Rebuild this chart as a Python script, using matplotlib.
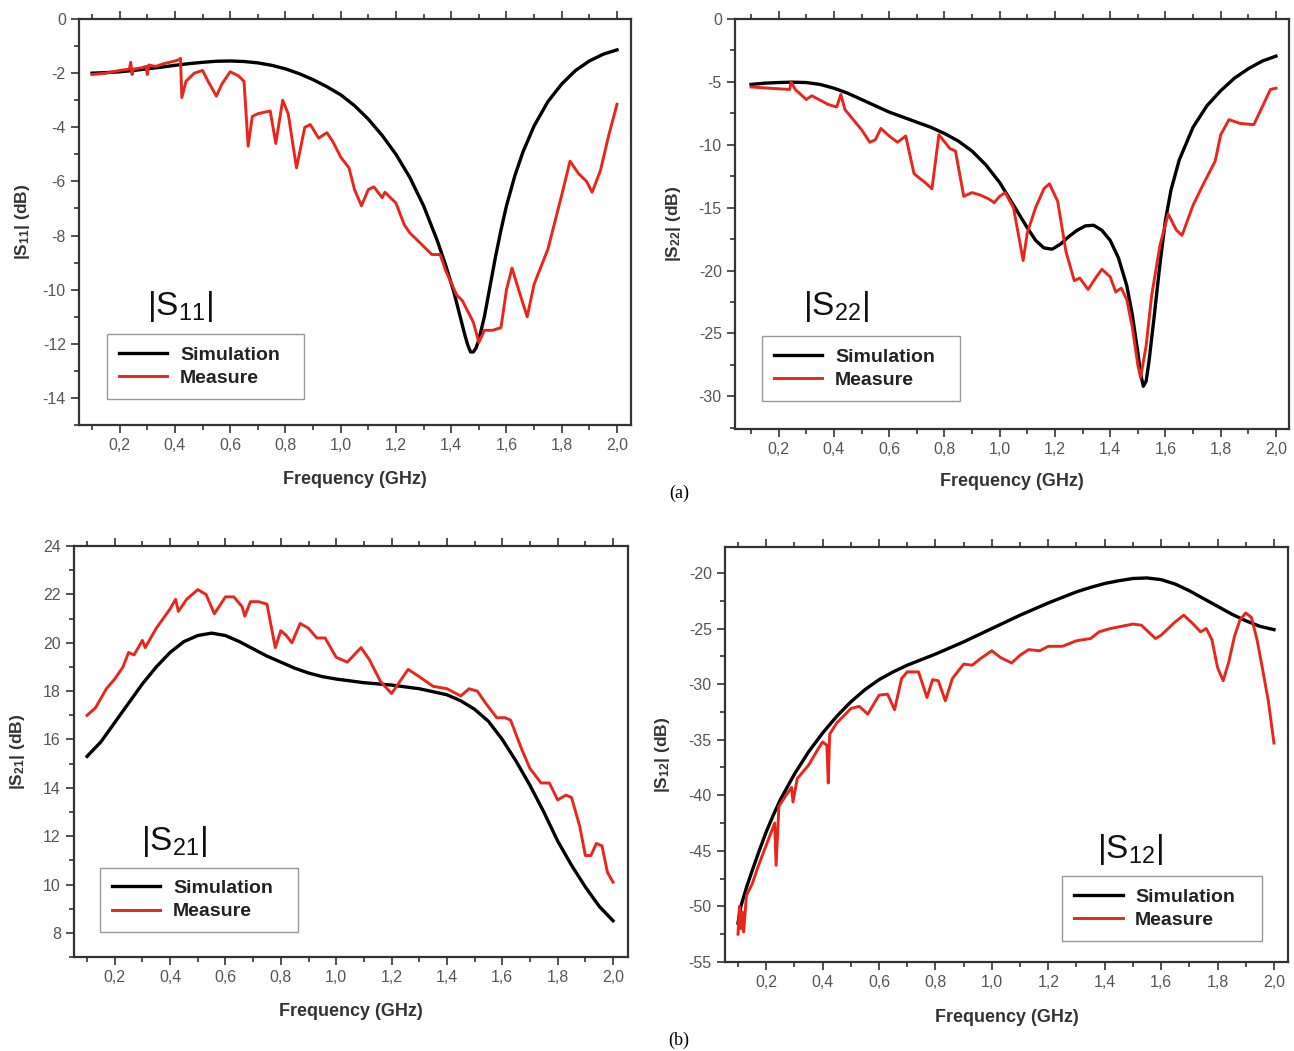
import matplotlib
matplotlib.use("Agg")
import matplotlib.pyplot as plt
from matplotlib.ticker import MultipleLocator, FuncFormatter

plt.rcParams['font.family'] = ['Liberation Sans', 'DejaVu Sans']
plt.rcParams['mathtext.fontset'] = 'custom'
plt.rcParams['mathtext.rm'] = 'Liberation Sans'
plt.rcParams['mathtext.it'] = 'Liberation Sans:italic'
plt.rcParams['mathtext.bf'] = 'Liberation Sans:bold'

RED = '#e8261c'

# |S11|
s11_sim_f = [0.1, 0.15, 0.2, 0.25, 0.3, 0.35, 0.4, 0.45, 0.5, 0.55, 0.6, 0.65, 0.7, 0.75, 0.8,
             0.85, 0.9, 0.95, 1.0, 1.05, 1.1, 1.15, 1.2, 1.25, 1.3, 1.35, 1.38, 1.41, 1.43, 1.45,
             1.46, 1.47, 1.48, 1.49, 1.5, 1.52, 1.54, 1.56, 1.58, 1.6, 1.63, 1.66, 1.7, 1.75,
             1.8, 1.85, 1.9, 1.95, 2.0]
s11_sim = [-2.0, -1.98, -1.95, -1.9, -1.84, -1.78, -1.71, -1.65, -1.6, -1.56, -1.55, -1.57,
           -1.62, -1.71, -1.84, -2.02, -2.24, -2.5, -2.8, -3.2, -3.7, -4.3, -5.0, -5.85, -6.9,
           -8.2, -9.1, -10.1, -10.9, -11.7, -12.05, -12.3, -12.3, -12.15, -11.85, -11.0, -9.9,
           -8.8, -7.8, -6.9, -5.8, -4.9, -3.95, -3.05, -2.4, -1.9, -1.55, -1.3, -1.14]
s11_meas_f = [0.1, 0.15, 0.2, 0.235, 0.24, 0.245, 0.25, 0.28, 0.295, 0.3, 0.305, 0.33, 0.36, 0.4,
              0.415, 0.42, 0.425, 0.44, 0.47, 0.5, 0.52, 0.55, 0.57, 0.6, 0.63, 0.65, 0.665, 0.68,
              0.7, 0.72, 0.745, 0.765, 0.79, 0.81, 0.84, 0.87, 0.89, 0.92, 0.95, 0.97, 1.0, 1.03,
              1.05, 1.075, 1.1, 1.12, 1.15, 1.16, 1.2, 1.23, 1.25, 1.28, 1.3, 1.33, 1.36, 1.38,
              1.42, 1.44, 1.46, 1.48, 1.5, 1.52, 1.55, 1.58, 1.6, 1.62, 1.65, 1.675, 1.7, 1.75,
              1.8, 1.83, 1.86, 1.89, 1.91, 1.94, 1.97, 2.0]
s11_meas = [-2.05, -2.0, -1.9, -1.85, -1.6, -2.05, -1.85, -1.8, -1.75, -2.05, -1.7, -1.75, -1.65,
            -1.55, -1.5, -1.45, -2.9, -2.3, -2.0, -1.9, -2.3, -2.85, -2.4, -1.95, -2.1, -2.3, -4.7,
            -3.6, -3.5, -3.45, -3.4, -4.6, -3.0, -3.5, -5.5, -4.0, -3.9, -4.4, -4.2, -4.5, -5.1,
            -5.5, -6.3, -6.9, -6.3, -6.2, -6.6, -6.4, -6.8, -7.6, -7.9, -8.2, -8.4, -8.7, -8.7,
            -9.3, -10.2, -10.4, -10.8, -11.2, -11.95, -11.5, -11.5, -11.4, -10.0, -9.2, -10.2,
            -11.0, -9.8, -8.5, -6.5, -5.25, -5.7, -6.0, -6.4, -5.6, -4.3, -3.15]

# |S22|
s22_sim_f = [0.1, 0.15, 0.2, 0.25, 0.3, 0.35, 0.4, 0.45, 0.5, 0.55, 0.6, 0.65, 0.7, 0.75, 0.8,
             0.85, 0.9, 0.95, 1.0, 1.05, 1.1, 1.13, 1.16, 1.19, 1.22, 1.25, 1.28, 1.31, 1.34,
             1.37, 1.4, 1.43, 1.46, 1.48, 1.5, 1.51, 1.52, 1.53, 1.54, 1.56, 1.58, 1.6, 1.62,
             1.65, 1.7, 1.75, 1.8, 1.85, 1.9, 1.95, 2.0]
s22_sim = [-5.2, -5.1, -5.05, -5.02, -5.05, -5.2, -5.5, -5.9, -6.4, -6.9, -7.4, -7.8, -8.2, -8.6,
           -9.1, -9.7, -10.5, -11.6, -13.0, -14.8, -16.6, -17.6, -18.2, -18.3, -17.9, -17.3,
           -16.8, -16.45, -16.4, -16.8, -17.6, -19.0, -21.2, -23.5, -26.5, -28.2, -29.2, -28.8,
           -27.3, -23.5, -19.5, -16.0, -13.6, -11.2, -8.6, -6.9, -5.7, -4.7, -3.95, -3.35, -2.95]
s22_meas_f = [0.1, 0.2, 0.24, 0.245, 0.26, 0.3, 0.32, 0.38, 0.41, 0.425, 0.44, 0.5, 0.53, 0.55,
              0.57, 0.6, 0.63, 0.66, 0.69, 0.73, 0.755, 0.78, 0.82, 0.84, 0.87, 0.9, 0.93, 0.96,
              0.98, 1.0, 1.02, 1.05, 1.085, 1.1, 1.13, 1.16, 1.18, 1.21, 1.24, 1.27, 1.29, 1.32,
              1.35, 1.37, 1.4, 1.42, 1.44, 1.46, 1.48, 1.5, 1.51, 1.53, 1.55, 1.58, 1.61, 1.64,
              1.66, 1.7, 1.74, 1.78, 1.8, 1.83, 1.87, 1.92, 1.95, 1.98, 2.0]
s22_meas = [-5.4, -5.55, -5.6, -5.0, -5.6, -6.4, -6.1, -6.8, -7.0, -6.0, -7.2, -8.8, -9.8, -9.6,
            -8.7, -9.3, -9.8, -9.3, -12.3, -13.0, -13.5, -9.2, -10.3, -10.5, -14.1, -13.8, -14.0,
            -14.3, -14.6, -14.1, -13.8, -15.0, -19.2, -17.0, -15.0, -13.5, -13.1, -14.5, -18.5,
            -20.8, -20.6, -21.5, -20.5, -19.9, -20.5, -21.7, -21.4, -22.3, -24.5, -27.5, -28.5,
            -26.0, -22.0, -18.0, -15.5, -16.8, -17.2, -14.8, -13.0, -11.3, -9.2, -8.0, -8.3,
            -8.4, -7.0, -5.6, -5.5]

# |S21|
s21_sim_f = [0.1, 0.15, 0.2, 0.25, 0.3, 0.35, 0.4, 0.45, 0.5, 0.55, 0.6, 0.65, 0.7, 0.75, 0.8,
             0.85, 0.9, 0.95, 1.0, 1.1, 1.2, 1.3, 1.4, 1.45, 1.5, 1.55, 1.6, 1.65, 1.7, 1.75, 1.8,
             1.85, 1.9, 1.95, 2.0]
s21_sim = [15.3, 15.9, 16.7, 17.5, 18.3, 19.0, 19.6, 20.05, 20.3, 20.4, 20.3, 20.05, 19.75, 19.45,
           19.2, 18.95, 18.75, 18.6, 18.5, 18.35, 18.25, 18.1, 17.85, 17.6, 17.25, 16.75, 16.0,
           15.1, 14.1, 13.0, 11.8, 10.8, 9.9, 9.1, 8.5]
s21_meas_f = [0.1, 0.13, 0.17, 0.2, 0.23, 0.25, 0.27, 0.3, 0.31, 0.35, 0.4, 0.42, 0.43, 0.46,
              0.5, 0.53, 0.56, 0.6, 0.63, 0.66, 0.67, 0.69, 0.72, 0.75, 0.78, 0.8, 0.82, 0.84,
              0.87, 0.9, 0.93, 0.96, 1.0, 1.04, 1.09, 1.12, 1.16, 1.2, 1.23, 1.26, 1.3, 1.35,
              1.4, 1.45, 1.48, 1.51, 1.54, 1.58, 1.61, 1.63, 1.67, 1.7, 1.74, 1.77, 1.8, 1.83,
              1.85, 1.88, 1.9, 1.92, 1.94, 1.96, 1.98, 2.0]
s21_meas = [17.0, 17.3, 18.1, 18.5, 19.0, 19.6, 19.5, 20.1, 19.8, 20.6, 21.4, 21.8, 21.3, 21.8,
            22.2, 22.0, 21.2, 21.9, 21.9, 21.5, 21.1, 21.7, 21.7, 21.6, 19.8, 20.5, 20.3, 20.0,
            20.8, 20.6, 20.2, 20.2, 19.4, 19.2, 19.8, 19.3, 18.4, 17.9, 18.4, 18.9, 18.6, 18.2,
            18.1, 17.8, 18.1, 18.0, 17.5, 16.9, 16.9, 16.8, 15.6, 14.8, 14.2, 14.2, 13.5, 13.7,
            13.6, 12.4, 11.2, 11.2, 11.7, 11.6, 10.5, 10.1]

# |S12|
s12_sim_f = [0.1, 0.11, 0.13, 0.15, 0.175, 0.2, 0.225, 0.25, 0.3, 0.35, 0.4, 0.45, 0.5, 0.55,
             0.6, 0.65, 0.7, 0.75, 0.8, 0.9, 1.0, 1.1, 1.2, 1.3, 1.35, 1.4, 1.45, 1.5, 1.55, 1.6,
             1.65, 1.7, 1.75, 1.8, 1.85, 1.9, 1.95, 2.0]
s12_sim = [-51.5, -50.0, -48.3, -46.8, -45.0, -43.3, -41.8, -40.4, -38.1, -36.1, -34.4, -32.9,
           -31.6, -30.5, -29.6, -28.9, -28.3, -27.8, -27.3, -26.2, -25.0, -23.8, -22.7, -21.7,
           -21.3, -20.95, -20.7, -20.5, -20.45, -20.6, -21.0, -21.6, -22.3, -23.0, -23.7, -24.3,
           -24.8, -25.1]
s12_meas_f = [0.1, 0.105, 0.11, 0.115, 0.12, 0.13, 0.15, 0.17, 0.2, 0.23, 0.235, 0.245, 0.27,
              0.29, 0.295, 0.31, 0.35, 0.38, 0.4, 0.415, 0.42, 0.425, 0.45, 0.5, 0.53, 0.56, 0.6,
              0.63, 0.655, 0.68, 0.7, 0.74, 0.77, 0.79, 0.81, 0.835, 0.86, 0.9, 0.93, 0.96, 1.0,
              1.03, 1.07, 1.1, 1.13, 1.17, 1.2, 1.25, 1.3, 1.35, 1.38, 1.42, 1.46, 1.5, 1.53,
              1.58, 1.6, 1.65, 1.68, 1.71, 1.74, 1.76, 1.78, 1.8, 1.82, 1.84, 1.86, 1.88, 1.9,
              1.92, 1.94, 1.96, 1.98, 2.0]
s12_meas = [-52.5, -50.0, -52.0, -50.5, -52.3, -49.0, -48.0, -46.5, -44.5, -42.5, -46.3, -41.0,
            -40.0, -39.3, -40.6, -38.5, -37.3, -36.0, -35.2, -35.5, -38.9, -34.5, -33.5, -32.2,
            -32.0, -32.7, -31.0, -30.9, -32.3, -29.5, -28.9, -28.9, -31.2, -29.6, -29.7, -31.5,
            -29.5, -28.2, -28.3, -27.7, -27.0, -27.6, -28.1, -27.4, -26.9, -27.0, -26.6, -26.6,
            -26.1, -25.9, -25.3, -25.0, -24.8, -24.6, -24.7, -25.9, -25.6, -24.4, -23.8, -24.5,
            -25.3, -25.0, -26.0, -28.5, -29.7, -28.0, -25.7, -24.2, -23.6, -24.0, -26.0, -28.7,
            -31.5, -35.3]


def dec_comma(v, pos):
    return ('%.1f' % v).replace('.', ',')


def int_label(v, pos):
    return '%d' % round(v)


def style_axis(ax, ylim, ymajor, yminor, xlim):
    ax.set_xlim(*xlim)
    ax.set_ylim(*ylim)
    ax.xaxis.set_major_locator(MultipleLocator(0.2))
    ax.xaxis.set_minor_locator(MultipleLocator(0.1))
    ax.yaxis.set_major_locator(MultipleLocator(ymajor))
    ax.yaxis.set_minor_locator(MultipleLocator(yminor))
    ax.xaxis.set_major_formatter(FuncFormatter(dec_comma))
    ax.yaxis.set_major_formatter(FuncFormatter(int_label))
    ax.tick_params(which='both', direction='out', top=True, right=False, width=1.2,
                   color='#333333', labelcolor='#555555', labelsize=11.5)
    ax.tick_params(which='major', length=6)
    ax.tick_params(which='minor', length=3.5)
    for sp in ax.spines.values():
        sp.set_linewidth(1.6)
        sp.set_color('#333333')


def draw_panel(ax, f_sim, sim, f_meas, meas, name, ylab, leg_box, tag_xy, lab_x, xlab_y):
    ax.plot(f_sim, sim, color='black', lw=2.4, label='Simulation', zorder=3)
    ax.plot(f_meas, meas, color=RED, lw=2.1, label='Measure', zorder=4)
    leg = ax.legend(loc='lower left', bbox_to_anchor=leg_box, mode='expand', borderaxespad=0,
                    prop={'weight': 'bold', 'size': 14}, fancybox=False, framealpha=1,
                    edgecolor='#999999', handlelength=2.5, handletextpad=0.65,
                    borderpad=0.6, labelspacing=0.3)
    leg.get_frame().set_linewidth(1.0)
    for t in leg.get_texts():
        t.set_color('#222222')
    ax.text(tag_xy[0], tag_xy[1], r'$|\mathrm{S}_{%s}|$' % name, transform=ax.transAxes,
            ha='center', va='center', fontsize=24, color='#111111')
    ax.set_ylabel(ylab, fontsize=12.5, fontweight='bold', color='#333333')
    ax.yaxis.set_label_coords(lab_x, 0.5)
    ax.set_xlabel('Frequency (GHz)', fontsize=13, fontweight='bold', color='#333333')
    ax.xaxis.set_label_coords(0.5, xlab_y)


fig = plt.figure(figsize=(12.94, 10.51), dpi=100)

ax1 = fig.add_axes([0.0611, 0.5956, 0.4266, 0.3863])
draw_panel(ax1, s11_sim_f, s11_sim, s11_meas_f, s11_meas, '11',
           r'$\mathbf{|S_{11}|}$ (dB)', (0.051, 0.065, 0.357, 0.01), (0.183, 0.291), -0.085, -0.113)
style_axis(ax1, (-15, 0), 2, 1, (0.053, 2.051))

ax2 = fig.add_axes([0.568, 0.5918, 0.4281, 0.3901])
draw_panel(ax2, s22_sim_f, s22_sim, s22_meas_f, s22_meas, '22',
           r'$\mathbf{|S_{22}|}$ (dB)', (0.049, 0.069, 0.357, 0.01), (0.182, 0.298), -0.094, -0.107)
style_axis(ax2, (-32.6, 0), 5, 2.5, (0.042, 2.047))

ax3 = fig.add_axes([0.0572, 0.0894, 0.4281, 0.391])
draw_panel(ax3, s21_sim_f, s21_sim, s21_meas_f, s21_meas, '21',
           r'$\mathbf{|S_{21}|}$ (dB)', (0.047, 0.061, 0.357, 0.01), (0.181, 0.28), -0.085, -0.112)
style_axis(ax3, (7, 24), 2, 1, (0.053, 2.054))

ax4 = fig.add_axes([0.5603, 0.0847, 0.4351, 0.3949])
draw_panel(ax4, s12_sim_f, s12_sim, s12_meas_f, s12_meas, '12',
           r'$\mathbf{|S_{12}|}$ (dB)', (0.599, 0.051, 0.355, 0.01), (0.719, 0.27), -0.094, -0.113)
style_axis(ax4, (-55, -17.66), 5, 2.5, (0.054, 2.05))

fig.text(679 / 1294, 1 - 493 / 1051, '(a)', ha='center', va='center', fontsize=13,
         family='Liberation Serif')
fig.text(679 / 1294, 1 - 1040 / 1051, '(b)', ha='center', va='center', fontsize=13,
         family='Liberation Serif')

fig.savefig('out.png', dpi=100)
